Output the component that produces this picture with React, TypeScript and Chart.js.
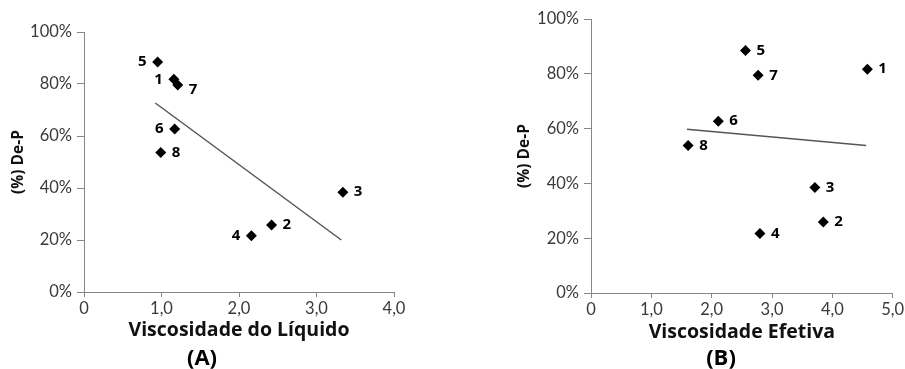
import React, { useEffect, useRef } from 'react';
import { Chart, registerables } from 'chart.js';
Chart.register(...registerables);

const TICK_FONT = 'Lato, "Open Sans", sans-serif';
const BOLD_FONT = '"Open Sans", Lato, sans-serif';

// Sample identifiers
const pointIds = ['1', '2', '3', '4', '5', '6', '7', '8'];
// (A) Viscosidade do Líquido vs (%) De-P
const xLiquido = [1.16, 2.42, 3.34, 2.16, 0.95, 1.17, 1.21, 0.99];
const yDePA = [81.8, 25.8, 38.4, 21.6, 88.5, 62.7, 79.6, 53.7];
// (B) Viscosidade Efetiva vs (%) De-P
const xEfetiva = [4.58, 3.85, 3.71, 2.8, 2.56, 2.11, 2.77, 1.61];
const yDePB = [81.7, 25.9, 38.5, 21.7, 88.5, 62.7, 79.5, 53.8];
// Linear trend lines (endpoints)
const trendAX = [0.92, 3.32];
const trendAY = [72.7, 20.0];
const trendBX = [1.59, 4.56];
const trendBY = [59.8, 53.8];
// Ticks
const xTicksA = [0, 1, 2, 3, 4];
const xTicksB = [0, 1, 2, 3, 4, 5];
const yTicks = [0, 20, 40, 60, 80, 100];
// Label placement
const labelSideA = ['left', 'right', 'right', 'left', 'left', 'left', 'right', 'right'];
const labelDyA = [0, 0, 0, 0, 0, 0, 5, 0];
const labelSideB = ['right', 'right', 'right', 'right', 'right', 'right', 'right', 'right'];
const labelDyB = [0, 0, 0, 0, 0, 0, 1, 0];

const pointLabels = {
  id: 'pointLabels',
  afterDatasetsDraw(chart: any, _args: any, opts: any) {
    const meta = chart.getDatasetMeta(0);
    const ctx = chart.ctx;
    ctx.save();
    ctx.font = `bold 15px ${BOLD_FONT}`;
    ctx.fillStyle = '#000';
    ctx.textBaseline = 'middle';
    meta.data.forEach((el: any, i: number) => {
      const side = opts.sides[i];
      ctx.textAlign = side === 'left' ? 'right' : 'left';
      const x = el.x + (side === 'left' ? -11 : 11);
      ctx.fillText(opts.labels[i], x, el.y + (opts.dy[i] || 0));
    });
    ctx.restore();
  },
};

const fmtX = (v: number) => (v === 0 ? '0' : v.toFixed(1).replace('.', ','));

function makeConfig(p: any) {
  const axisColor = '#868686';
  return {
    type: 'scatter',
    data: {
      datasets: [
        {
          data: p.xs.map((x: number, i: number) => ({ x, y: p.ys[i] })),
          pointStyle: 'rectRot',
          pointRadius: 5.5,
          pointHoverRadius: 5.5,
          backgroundColor: '#000',
          borderColor: '#000',
          borderWidth: 0,
        },
        {
          data: p.tx.map((x: number, i: number) => ({ x, y: p.ty[i] })),
          showLine: true,
          pointRadius: 0,
          borderColor: '#555',
          borderWidth: 1.5,
        },
      ],
    },
    options: {
      responsive: false,
      animation: false,
      events: [],
      layout: { padding: { left: 0, top: p.top, right: p.right, bottom: 0 } },
      plugins: {
        legend: { display: false },
        tooltip: { enabled: false },
        pointLabels: { labels: pointIds, sides: p.sides, dy: p.dy },
      },
      scales: {
        x: {
          type: 'linear',
          min: 0,
          max: p.xTicks[p.xTicks.length - 1],
          afterBuildTicks: (s: any) => { s.ticks = p.xTicks.map((v: number) => ({ value: v })); },
          afterFit: (s: any) => { s.height = p.xAxisH; s.paddingLeft = 0; s.paddingRight = 0; },
          ticks: { callback: (v: any) => fmtX(Number(v)), font: { family: TICK_FONT, size: 16.5 }, color: '#3a3a3a', padding: 2, maxRotation: 0 },
          grid: { drawOnChartArea: false, drawTicks: true, tickLength: 5, color: axisColor },
          border: { color: axisColor, width: 1 },
          title: { display: true, text: p.xTitle, font: { family: BOLD_FONT, size: 19.5, weight: 'bold' }, color: '#111', padding: { top: 0, bottom: p.xTitlePad } },
        },
        y: {
          type: 'linear',
          min: 0,
          max: 100,
          afterBuildTicks: (s: any) => { s.ticks = yTicks.map((v) => ({ value: v })); },
          afterFit: (s: any) => { s.width = p.yAxisW; s.paddingTop = 0; s.paddingBottom = 0; },
          ticks: { callback: (v: any) => v + '%', font: { family: TICK_FONT, size: 16.5 }, color: '#3a3a3a', padding: 5 },
          grid: { drawOnChartArea: false, drawTicks: true, tickLength: 7, color: axisColor },
          border: { color: axisColor, width: 1 },
          title: { display: true, text: '(%) De-P', font: { family: BOLD_FONT, size: 15.5, weight: 'bold' }, color: '#111', padding: { top: p.yTitlePad, bottom: 0 } },
        },
      },
    },
    plugins: [pointLabels],
  };
}

function ChartCanvas(props: any) {
  const ref = useRef<HTMLCanvasElement>(null);
  useEffect(() => {
    const chart = new Chart(ref.current as any, makeConfig(props.cfg) as any);
    return () => chart.destroy();
  }, []);
  return (
    <canvas
      ref={ref}
      width={props.width}
      height={369}
      style={{ position: 'absolute', left: props.left, top: 0, width: props.width, height: 369 }}
    />
  );
}

const captionStyle: any = {
  position: 'absolute',
  width: 100,
  textAlign: 'center',
  fontFamily: BOLD_FONT,
  fontWeight: 'bold',
  fontSize: 22,
  lineHeight: '24px',
  color: '#000',
};

export default function App() {
  const cfgA = {
    xs: xLiquido, ys: yDePA, tx: trendAX, ty: trendAY, xTicks: xTicksA,
    sides: labelSideA, dy: labelDyA, xTitle: 'Viscosidade do Líquido',
    top: 32, right: 440 - 394, xAxisH: 369 - 292, yAxisW: 84, xTitlePad: 27, yTitlePad: 9.5,
  };
  const cfgB = {
    xs: xEfetiva, ys: yDePB, tx: trendBX, ty: trendBY, xTicks: xTicksB,
    sides: labelSideB, dy: labelDyB, xTitle: 'Viscosidade Efetiva',
    top: 19, right: 12.3, xAxisH: 369 - 293, yAxisW: 111, xTitlePad: 24.5, yTitlePad: 35.5,
  };
  return (
    <div style={{ position: 'absolute', left: 0, top: 0, width: 905, height: 369, background: '#fff', overflow: 'hidden' }}>
      <ChartCanvas left={0} width={440} cfg={cfgA} />
      <ChartCanvas left={480} width={425} cfg={cfgB} />
      <div style={{ ...captionStyle, left: 202 - 50, top: 344 }}>(A)</div>
      <div style={{ ...captionStyle, left: 721 - 50, top: 344 }}>(B)</div>
    </div>
  );
}
